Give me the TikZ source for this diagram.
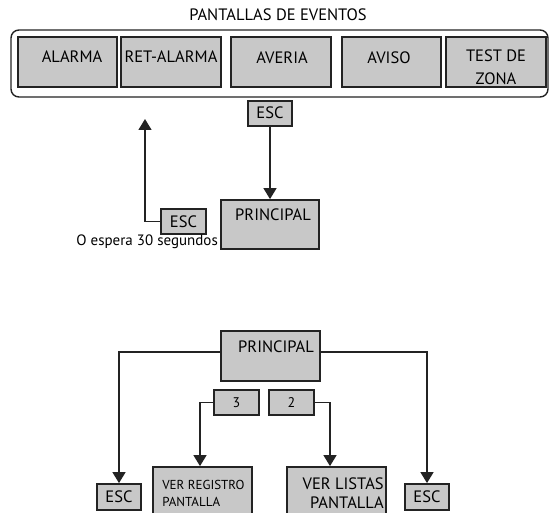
\documentclass[tikz,border=0pt]{standalone}
\usepackage{fontspec}
\setmainfont{PT Sans}
\usetikzlibrary{arrows.meta}
\definecolor{boxgray}{RGB}{200,200,200}
\definecolor{edgedark}{RGB}{35,35,35}

\begin{document}
\begin{tikzpicture}[x=1pt, y=-1pt,
  font=\fontsize{16.5}{19}\selectfont,
  panel/.style={draw=edgedark, line width=1.8pt, fill=boxgray, inner sep=0pt},
  keybox/.style={panel, minimum width=44pt, minimum height=25pt},
  link/.style={draw=edgedark, line width=1.4pt},
  tip/.style={-{Triangle[width=13pt,length=11pt]}},
  inlabel/.style={inner sep=0pt, align=center, text=black}]
\useasboundingbox (0,0) rectangle (551,513);
% pantallas de eventos
\node[text=black] (titulo) at (278,15) {PANTALLAS DE EVENTOS};
\node[draw=edgedark, line width=1.4pt, rounded corners=8pt, minimum width=537pt, minimum height=67pt] (eventos) at (279.5,63.5) {};
\node[panel, minimum width=99pt, minimum height=50pt, label={[inlabel, xshift=4.5pt, yshift=5pt]center:ALARMA}] (alarma) at (67.5,62) {};
\node[panel, minimum width=100pt, minimum height=50pt, label={[inlabel, yshift=5pt]center:RET-ALARMA}] (retalarma) at (171,62) {};
\node[panel, minimum width=100pt, minimum height=50pt, label={[inlabel, xshift=1pt, yshift=4.5pt]center:AVERIA}] (averia) at (281,62) {};
\node[panel, minimum width=99pt, minimum height=50pt, label={[inlabel, xshift=-2.5pt, yshift=4.5pt]center:AVISO}] (aviso) at (391.5,62) {};
\node[panel, minimum width=100pt, minimum height=50pt, label={[inlabel, yshift=-5.5pt, font=\fontsize{16.5}{23}\selectfont]center:TEST DE\\ZONA}] (testzona) at (496,62) {};
% salida con ESC
\node[keybox, label={[inlabel, yshift=1pt]center:ESC}] (escA) at (270,113.5) {};
\node[panel, minimum width=98pt, minimum height=49pt, label={[inlabel, xshift=3pt, yshift=9.5pt]center:PRINCIPAL}] (princA) at (270,224.5) {};
\draw[link, tip] (escA) -- (princA);
\node[keybox, minimum width=45pt, label={[inlabel]center:ESC}] (escB) at (183.5,221.5) {};
\node[anchor=base east, inner sep=0pt, text=black, font=\fontsize{15}{18}\selectfont] (espera) at (218,245) {O espera 30 segundos};
\coordinate (retorno) at (145,119);
\draw[link, tip] (escB.west) -| (retorno);
% menu principal
\node[panel, minimum width=99pt, minimum height=50pt, label={[inlabel, xshift=5.5pt, yshift=9pt]center:PRINCIPAL}] (princB) at (270.5,356) {};
\node[keybox, minimum height=26pt, label={[inlabel]center:ESC}] (escL) at (119,497) {};
\node[keybox, minimum height=26pt, label={[inlabel]center:ESC}] (escR) at (427,497) {};
\draw[link, tip] ([yshift=4pt]princB.west) -| (escL);
\draw[link, tip] ([yshift=4pt]princB.east) -| (escR);
\node[keybox, minimum width=45pt, label={[inlabel, font=\fontsize{14}{17}\selectfont]center:3}] (tecla3) at (236.5,402.5) {};
\node[keybox, minimum width=45pt, label={[inlabel, font=\fontsize{14}{17}\selectfont]center:2}] (tecla2) at (291.5,402.5) {};
\node[panel, minimum width=99pt, minimum height=63pt, label={[inlabel, anchor=west, align=left, xshift=10pt, yshift=5pt, font=\fontsize{13}{17}\selectfont]west:VER REGISTRO\\PANTALLA}] (verreg) at (202.5,498.5) {};
\node[panel, minimum width=99pt, minimum height=63pt, label={[inlabel, anchor=east, align=right, xshift=-3pt, yshift=5pt, font=\fontsize{16.5}{19}\selectfont]east:VER LISTAS\\PANTALLA}] (verlst) at (336.5,498.5) {};
\draw[link, tip] (tecla3.west) -| ([xshift=-2.5pt]verreg.north);
\draw[link, tip] (tecla2.east) -| ([xshift=-6.5pt]verlst.north);
\end{tikzpicture}
\end{document}
